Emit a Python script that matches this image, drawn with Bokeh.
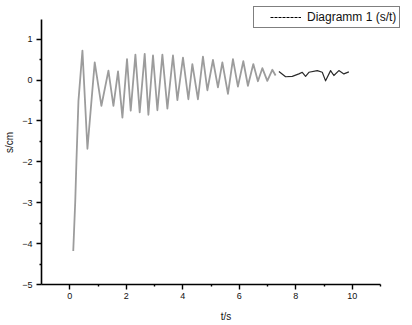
from bokeh.plotting import figure
from bokeh.models import Range1d, FixedTicker, Legend, LegendItem, ColumnDataSource
from bokeh.embed import file_html
from bokeh.resources import INLINE

# data: time t (s) and displacement s (cm)
t_values = [0.124, 0.195, 0.237, 0.308, 0.449, 0.626, 0.884, 1.121, 1.369, 1.546,
            1.709, 1.864, 2.027, 2.158, 2.324, 2.476, 2.653, 2.784, 2.947, 3.102,
            3.279, 3.456, 3.654, 3.810, 4.008, 4.199, 4.340, 4.538, 4.715, 4.871,
            5.069, 5.246, 5.402, 5.600, 5.777, 5.953, 6.144, 6.307, 6.498, 6.661,
            6.817, 6.993, 7.170, 7.287, 7.404, 7.641, 7.878, 8.111, 8.231, 8.348,
            8.465, 8.762, 8.939, 9.056, 9.233, 9.349, 9.526, 9.703, 9.880]
s_values = [-4.18, -2.96, -1.98, -0.51, 0.72, -1.68, 0.43, -0.63, 0.23, -0.63,
            0.21, -0.92, 0.51, -0.75, 0.62, -0.79, 0.64, -0.85, 0.60, -0.74,
            0.62, -0.70, 0.60, -0.49, 0.55, -0.47, 0.39, -0.47, 0.57, -0.25,
            0.49, -0.18, 0.43, -0.34, 0.51, -0.16, 0.46, -0.14, 0.39, -0.03,
            0.29, -0.02, 0.25, 0.11, 0.21, 0.08, 0.09, 0.15, 0.19, 0.09,
            0.19, 0.23, 0.19, -0.02, 0.23, 0.11, 0.23, 0.15, 0.20]
tail_start = 7.4

x_axis_bounds = (-1, 11)
y_axis_bounds = (-5, 1.48)
x_major = [0, 2, 4, 6, 8, 10]
x_minor = [1, 3, 5, 7, 9, 11]
y_major = [-5, -4, -3, -2, -1, 0, 1]
y_minor = [-4.5, -3.5, -2.5, -1.5, -0.5, 0.5]
legend_label = "Diagramm 1 (s/t)"
x_label = "t/s"
y_label = "s/cm"

# frame extends past the axes (to the top and right edge) so the legend is not clipped
x_px_per_unit = 339 / 12
y_px_per_unit = 265 / 6.48
frame_w, frame_h = 369, 284
x_range = Range1d(x_axis_bounds[0], x_axis_bounds[0] + frame_w / x_px_per_unit)
y_range = Range1d(y_axis_bounds[0], y_axis_bounds[0] + frame_h / y_px_per_unit)

p = figure(frame_width=frame_w, frame_height=frame_h, output_backend="svg", toolbar_location=None,
           x_range=x_range, y_range=y_range,
           min_border_left=41, min_border_right=0, min_border_top=0, min_border_bottom=40)
p.outline_line_color = None
p.grid.visible = False
p.background_fill_color = "white"

head = [i for i, tt in enumerate(t_values) if tt <= tail_start]
tail = [i for i, tt in enumerate(t_values) if tt >= tail_start]
src_head = ColumnDataSource(dict(t=[t_values[i] for i in head], s=[s_values[i] for i in head]))
src_tail = ColumnDataSource(dict(t=[t_values[i] for i in tail], s=[s_values[i] for i in tail]))
p.line("t", "s", source=src_head, line_color="#9c9c9c", line_width=1.8, line_join="round")
p.line("t", "s", source=src_tail, line_color="#2a2a2a", line_width=1.2, line_join="round")

# legend sample renderer (no visible data): dashes start 13px into the glyph box
dummy = p.line(x=[float("nan")], y=[float("nan")], line_color="black", line_width=1,
               line_dash="0 13 3 1 3 1 3 1 3 1 3 1 3 1 3 1 3 60")
legend = Legend(items=[LegendItem(label=legend_label, renderers=[dummy])],
                location=(212, 256), margin=0, padding=3, glyph_width=44, glyph_height=14,
                label_standoff=6, label_text_font="Liberation Sans", label_text_font_size="12px",
                label_text_color="#111111", border_line_color="black", border_line_width=1,
                background_fill_color="white", background_fill_alpha=1.0, spacing=0)
p.add_layout(legend, "center")

for ax in (p.xaxis[0], p.yaxis[0]):
    ax.axis_line_width = 1.6
    ax.axis_line_color = "black"
    ax.major_tick_line_width = 1.4
    ax.minor_tick_line_width = 1.4
    ax.major_tick_out = 5
    ax.major_tick_in = 0
    ax.minor_tick_out = 2
    ax.minor_tick_in = 0
    ax.major_label_text_font = "Liberation Sans"
    ax.major_label_text_font_size = "9px"
    ax.major_label_text_color = "#111111"
    ax.axis_label_text_font = "Liberation Sans"
    ax.axis_label_text_font_size = "10px"
    ax.axis_label_text_font_style = "normal"
    ax.axis_label_text_color = "#111111"

p.xaxis[0].bounds = x_axis_bounds
p.yaxis[0].bounds = y_axis_bounds
p.xaxis[0].ticker = FixedTicker(ticks=x_major, minor_ticks=x_minor)
p.yaxis[0].ticker = FixedTicker(ticks=y_major, minor_ticks=y_minor)
p.xaxis[0].axis_label = x_label
p.yaxis[0].axis_label = y_label
p.xaxis[0].major_label_standoff = 3
p.xaxis[0].axis_label_standoff = 9
p.yaxis[0].major_label_standoff = 4
p.yaxis[0].axis_label_standoff = 4

open("out.html", "w").write(file_html(p, INLINE))
